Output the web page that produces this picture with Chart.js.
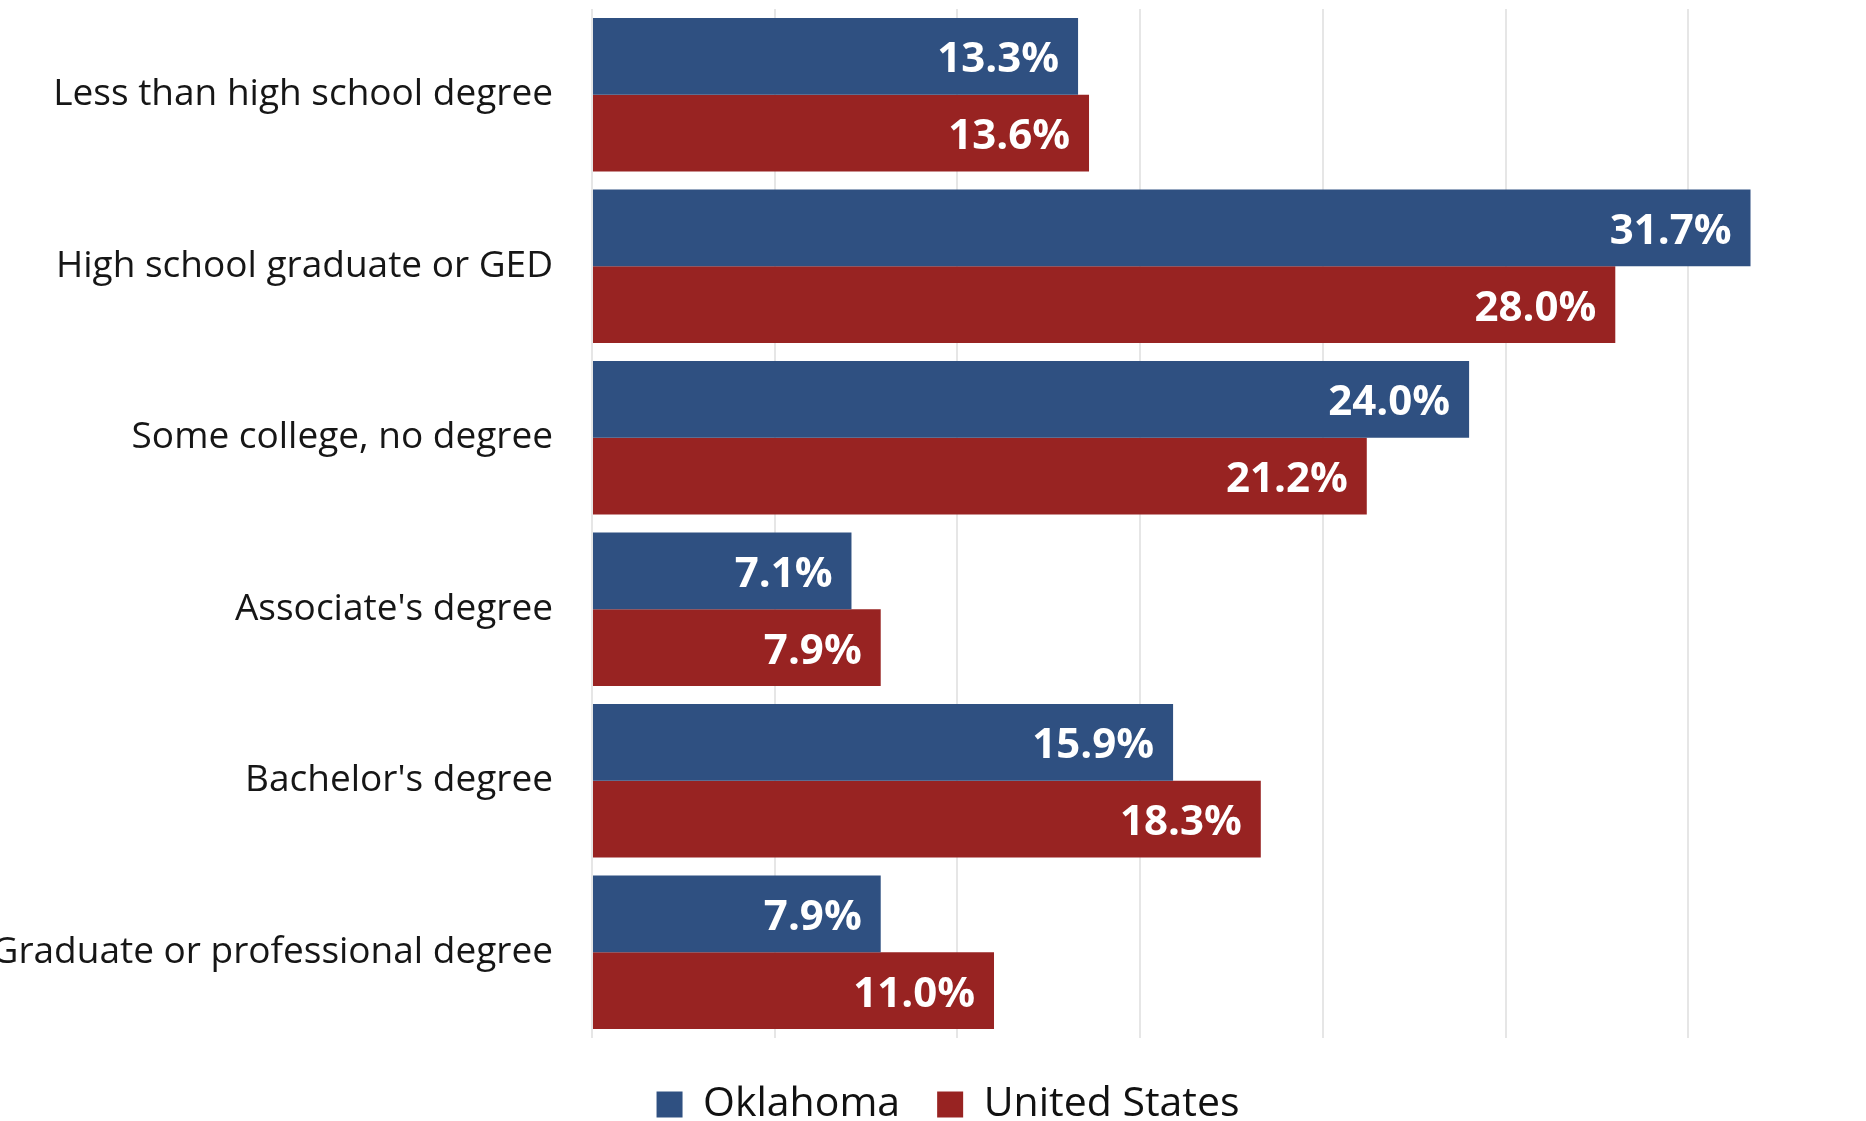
<!DOCTYPE html>
<html>
<head>
<meta charset="utf-8">
<script src="https://cdn.jsdelivr.net/npm/chart.js@4/dist/chart.umd.min.js"></script>
<style>
    html, body { margin: 0; padding: 0; background: #ffffff; }
    #wrap { width: 1866px; height: 1121px; }
</style>
</head>
<body>
<div id="wrap"><canvas id="eduChart"></canvas></div>
<script>
'use strict';

const categories = [
    'Less than high school degree',
    'High school graduate or GED',
    'Some college, no degree',
    "Associate's degree",
    "Bachelor's degree",
    'Graduate or professional degree'
];
const oklahomaValues = [13.3, 31.7, 24.0, 7.1, 15.9, 7.9];
const usValues = [13.6, 28.0, 21.2, 7.9, 18.3, 11.0];
const seriesNames = ['Oklahoma', 'United States'];

const fontFamily = '"Open Sans", "Noto Sans", sans-serif';

// draws the white value labels inside the end of each bar
const barLabels = {
    id: 'barLabels',
    afterDatasetsDraw(chart) {
        const ctx = chart.ctx;
        ctx.save();
        ctx.font = 'bold 42px ' + fontFamily;
        ctx.fillStyle = '#ffffff';
        ctx.textAlign = 'right';
        ctx.textBaseline = 'middle';
        chart.data.datasets.forEach(function (ds, i) {
            chart.getDatasetMeta(i).data.forEach(function (bar, j) {
                ctx.fillText(ds.data[j].toFixed(1) + '%', bar.x - 19, bar.y + 4);
            });
        });
        ctx.restore();
    }
};

function drawChart() {
    new Chart('eduChart', {
        type: 'bar',
        data: {
            labels: categories,
            datasets: [{
                label: seriesNames[0],
                data: oklahomaValues,
                backgroundColor: '#2F5081',
                categoryPercentage: 0.895,
                barPercentage: 1.0
            }, {
                label: seriesNames[1],
                data: usValues,
                backgroundColor: '#982322',
                categoryPercentage: 0.895,
                barPercentage: 1.0
            }]
        },
        plugins: [barLabels],
        options: {
            indexAxis: 'y',
            responsive: true,
            maintainAspectRatio: false,
            animation: false,
            layout: {
                padding: { top: 9, left: 0, right: -30, bottom: -14 }
            },
            plugins: {
                tooltip: { enabled: false },
                legend: {
                    position: 'bottom',
                    labels: {
                        boxWidth: 26,
                        boxHeight: 26,
                        padding: 37,
                        color: '#111111',
                        font: { family: fontFamily, size: 41 }
                    }
                }
            },
            scales: {
                x: {
                    min: 0,
                    max: 34.86,
                    ticks: { display: false, stepSize: 5 },
                    border: { display: false },
                    grid: {
                        color: function (c) {
                            return c.tick && c.tick.value % 5 === 0 ? '#e6e6e6' : 'rgba(0,0,0,0)';
                        },
                        lineWidth: 2,
                        drawTicks: false
                    },
                    afterFit: function (scale) { scale.height = 9; }
                },
                y: {
                    grid: { display: false, drawTicks: false },
                    border: { display: false },
                    ticks: {
                        padding: 39,
                        color: '#161616',
                        font: { family: fontFamily, size: 37 }
                    },
                    afterFit: function (scale) {
                        scale.width = 592;
                        scale.paddingTop = 0;
                        scale.paddingBottom = 0;
                    }
                }
            }
        }
    });
}

drawChart();
</script>
</body>
</html>
